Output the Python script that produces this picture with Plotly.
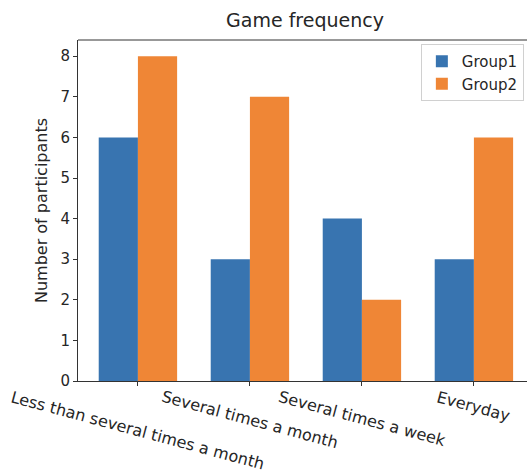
import plotly.graph_objects as go

categories = ["Less than several times a month", "Several times a month",
              "Several times a week", "Everyday"]
group1 = [6, 3, 4, 3]
group2 = [8, 7, 2, 6]
series_names = ["Group1", "Group2"]
y_ticks = [0, 1, 2, 3, 4, 5, 6, 7, 8]

BLUE = "#3874b0"
ORANGE = "#ef8636"
FONT = "DejaVu Sans"
TEXT = "#262626"
SIZE = 16

positions = list(range(len(categories)))

fig = go.Figure()
fig.add_trace(go.Bar(x=positions, y=group1, name=series_names[0],
                     marker=dict(color=BLUE, line=dict(width=0))))
fig.add_trace(go.Bar(x=positions, y=group2, name=series_names[1],
                     marker=dict(color=ORANGE, line=dict(width=0))))

# rotated category labels, centred under each tick
for pos, label in zip(positions, categories):
    fig.add_annotation(x=pos, y=0, xref="x", yref="paper", text=label,
                       showarrow=False, textangle=15, xanchor="center",
                       yanchor="top", yshift=-5, borderpad=0,
                       font=dict(family=FONT, size=SIZE, color=TEXT))

# top spine (the right side runs past the canvas)
fig.add_shape(type="line", xref="paper", yref="paper", x0=0, x1=1.02,
              y0=1, y1=1, line=dict(color="#333333", width=1))

fig.update_layout(
    width=527, height=473,
    margin=dict(l=78, r=0, t=40, b=92),
    paper_bgcolor="white", plot_bgcolor="white",
    barmode="group", bargap=0.3, bargroupgap=0,
    title=dict(text="Game frequency", x=305 / 527, xanchor="center",
               y=1 - 20 / 473, yanchor="middle",
               font=dict(family=FONT, size=19, color=TEXT)),
    font=dict(family=FONT, size=SIZE, color=TEXT),
    legend=dict(x=0.993, y=0.988, xanchor="right", yanchor="top",
                bgcolor="rgba(255,255,255,0.8)", bordercolor="#d0d0d0",
                borderwidth=1, tracegroupgap=0,
                font=dict(family=FONT, size=SIZE - 1, color=TEXT)),
    showlegend=True,
)
fig.update_xaxes(range=[-0.535, 3.474], tickvals=positions,
                 showticklabels=False, ticks="outside", ticklen=4,
                 tickcolor="#333333", showline=True, linecolor="#333333",
                 linewidth=1, showgrid=False, zeroline=False)
fig.update_yaxes(range=[0, 8.4], tickvals=y_ticks, ticks="outside",
                 ticklen=4, tickcolor="#333333", showline=True,
                 linecolor="#333333", linewidth=1, showgrid=False,
                 zeroline=False, tickfont=dict(size=SIZE - 1),
                 title=dict(text="Number of participants", standoff=8,
                            font=dict(family=FONT, size=SIZE, color=TEXT)))

fig.write_html("out.html")
